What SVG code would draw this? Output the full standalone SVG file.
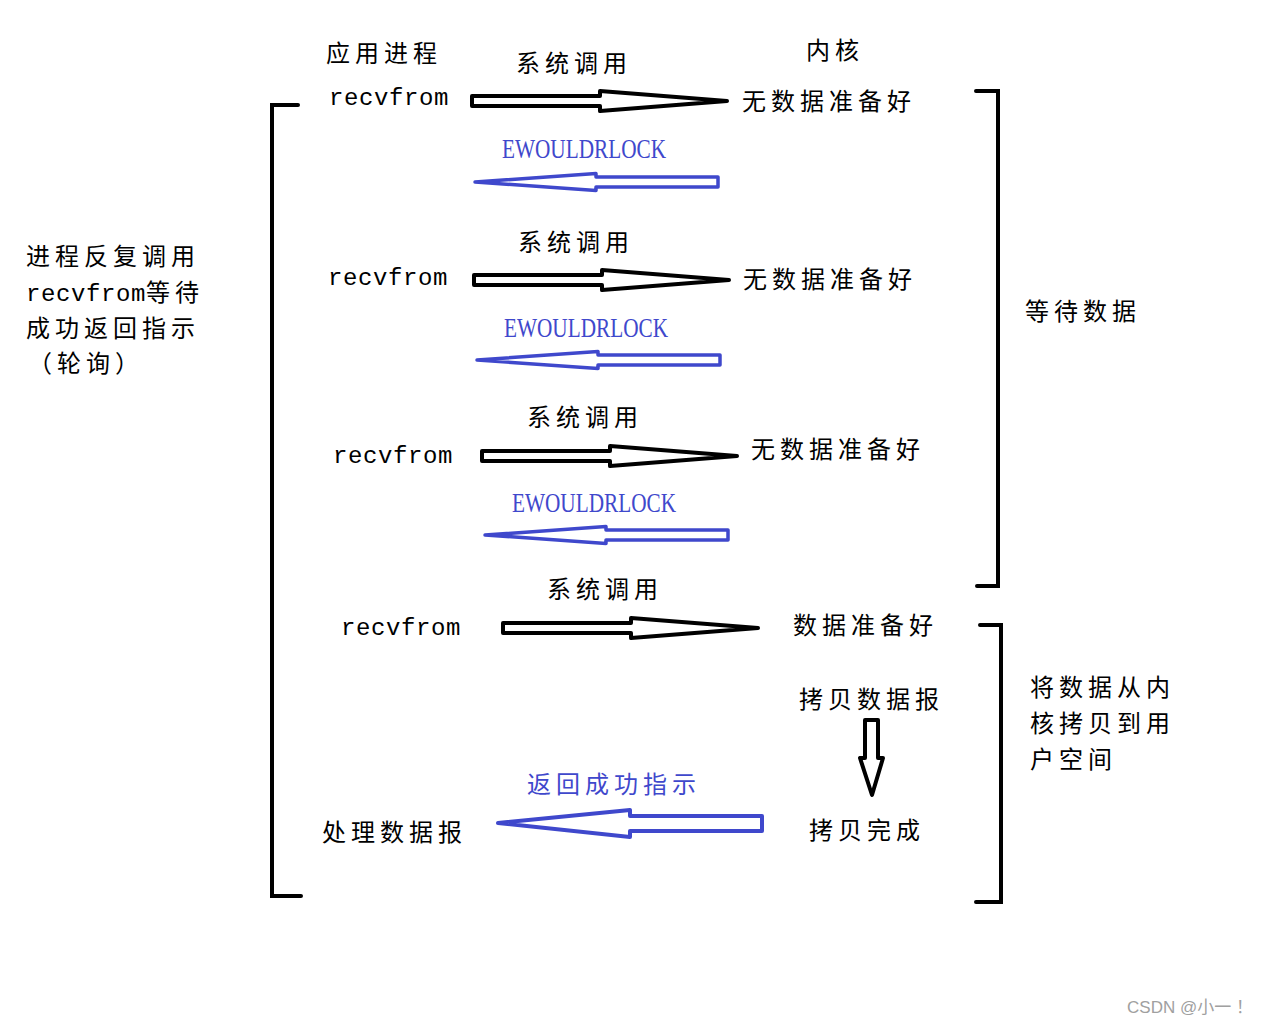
<svg xmlns="http://www.w3.org/2000/svg" xmlns:xlink="http://www.w3.org/1999/xlink" width="1265" height="1025" viewBox="0 0 1265 1025">
<style>
.t{font-family:"Liberation Serif","Noto Sans CJK SC",serif;font-size:24px;letter-spacing:5px;fill:#000}
.m{font-family:"Liberation Mono","Noto Sans CJK SC",monospace;font-size:24px;letter-spacing:0.6px;fill:#000}
.b{fill:#3f48cc}
.e{font-family:"Liberation Serif",serif;font-size:27px;fill:#3f48cc}
.ba{fill:#fff;stroke:#000;stroke-width:4;stroke-linejoin:round}
.bl{fill:#fff;stroke:#3f48cc;stroke-width:3.5;stroke-linejoin:round}
.br{fill:none;stroke:#000;stroke-width:4;stroke-linecap:round;stroke-linejoin:miter}
.wm{font-family:"Liberation Sans","Noto Sans CJK SC",sans-serif;font-size:17px;fill:#a0a0a0}
</style>
<defs>
<path id="blk" d="M0,-5 H128 V-10 L255,0 L128,10 V5 H0 Z"/>
<path id="blu" d="M0,0 L121,-8.5 V-5 H243 V5 H121 V8.5 Z"/>
</defs>

<g id="headers">
<text class="t" x="326" y="62">应用进程</text>
<text class="t" x="806" y="59">内核</text>
</g>

<g id="left-note">
<text class="t" x="26" y="265">进程反复调用</text>
<text x="26" y="301"><tspan class="m">recvfrom</tspan><tspan class="t">等待</tspan></text>
<text class="t" x="26" y="337">成功返回指示</text>
<text class="t" x="28" y="372">（轮询）</text>
</g>

<g id="row1">
<text class="t" x="516" y="72">系统调用</text>
<text class="m" x="329" y="105">recvfrom</text>
<text class="t" x="742" y="110">无数据准备好</text>
<text class="e" x="502" y="158" textLength="164" lengthAdjust="spacingAndGlyphs">EWOULDRLOCK</text>
</g>
<g id="row2">
<text class="t" x="518" y="251">系统调用</text>
<text class="m" x="328" y="285">recvfrom</text>
<text class="t" x="743" y="288">无数据准备好</text>
<text class="e" x="504" y="337" textLength="164" lengthAdjust="spacingAndGlyphs">EWOULDRLOCK</text>
</g>
<g id="row3">
<text class="t" x="527" y="426">系统调用</text>
<text class="m" x="333" y="463">recvfrom</text>
<text class="t" x="751" y="458">无数据准备好</text>
<text class="e" x="512" y="512" textLength="164" lengthAdjust="spacingAndGlyphs">EWOULDRLOCK</text>
</g>
<g id="row4">
<text class="t" x="547" y="598">系统调用</text>
<text class="m" x="341" y="635">recvfrom</text>
<text class="t" x="793" y="634">数据准备好</text>
</g>
<g id="copy">
<text class="t" x="799" y="708">拷贝数据报</text>
<text class="t" x="809" y="839">拷贝完成</text>
<text class="t b" x="527" y="793">返回成功指示</text>
<text class="t" x="322" y="841">处理数据报</text>
</g>
<g id="right-notes">
<text class="t" x="1025" y="320">等待数据</text>
<text class="t" x="1030" y="696">将数据从内</text>
<text class="t" x="1030" y="732">核拷贝到用</text>
<text class="t" x="1030" y="768">户空间</text>
</g>

<g id="connectors">
<use xlink:href="#blk" class="ba" x="472" y="101"/>
<use xlink:href="#blk" class="ba" x="474" y="280"/>
<use xlink:href="#blk" class="ba" x="482" y="456"/>
<use xlink:href="#blk" class="ba" x="503" y="628"/>
<use xlink:href="#blu" class="bl" x="475" y="182"/>
<use xlink:href="#blu" class="bl" x="477" y="360"/>
<use xlink:href="#blu" class="bl" x="485" y="535"/>
<path class="bl" style="stroke-width:4" d="M498,823 L630,810 V816 H762 V831 H630 V837 Z"/>
<path class="ba" d="M865,720 H878 V758 H883 L872,795 L860,758 H865 Z"/>
<path class="br" d="M298,105 H272 V896 H301"/>
<path class="br" d="M976,91 H998 V586 H977"/>
<path class="br" d="M980,625 H1001 V902 H976"/>
</g>

<text class="wm" x="1127" y="1013" textLength="126" lengthAdjust="spacing">CSDN @小一 ！</text>
</svg>
